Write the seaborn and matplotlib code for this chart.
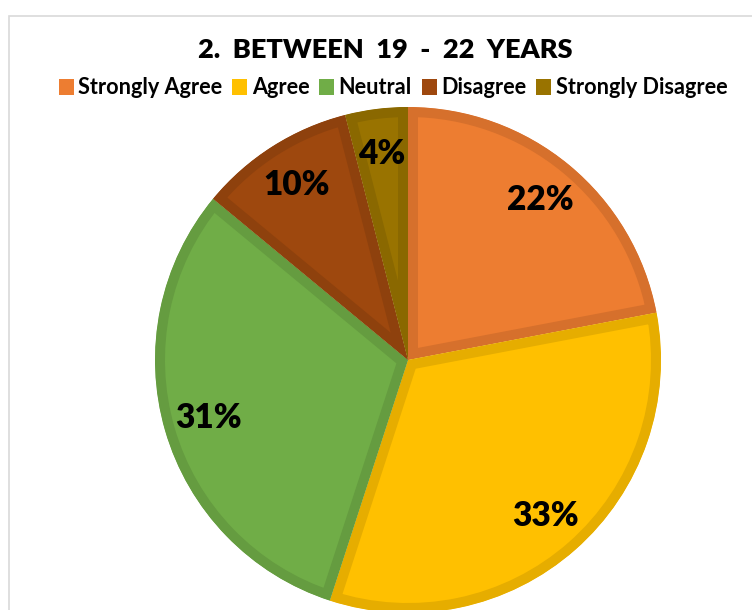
import matplotlib
matplotlib.use("Agg")
import matplotlib.pyplot as plt
import seaborn as sns
from matplotlib.patches import Rectangle, Patch

categories = ["Strongly Agree", "Agree", "Neutral", "Disagree", "Strongly Disagree"]
values = [22, 33, 31, 10, 4]
title = "2.  BETWEEN  19  -  22  YEARS"

sns.set_theme(style="white")
plt.rcParams['font.family'] = ['Lato', 'DejaVu Sans']

fills = sns.color_palette(["#ED7D31", "#FFC000", "#70AD47", "#9E480E", "#997300"])
edges = ["#D6702C", "#E6AD00", "#659C40", "#8E410D", "#8A6800"]

W, H = 752, 610
fig = plt.figure(figsize=(W / 100, H / 100), dpi=100)
fig.patch.set_facecolor("white")

# chart frame
fig.add_artist(Rectangle((9 / W, -0.1), 2.0, (H - 16) / H + 0.1, transform=fig.transFigure,
                         fill=False, edgecolor="#D9D9D9", linewidth=1.2))

cx, cy, r = 408, 360, 253
ax = fig.add_axes([(cx - r) / W, (H - cy - r) / H, 2 * r / W, 2 * r / H])

wedges, texts, autotexts = ax.pie(
    values, colors=fills, startangle=90, counterclock=False, radius=1,
    autopct=lambda p: f"{p:.0f}%", pctdistance=0.82,
    textprops=dict(fontsize=24, fontweight="heavy", color="black"),
    wedgeprops=dict(linewidth=14.4),
)
for w, ec in zip(wedges, edges):
    w.set_edgecolor(ec)
    w.set_clip_path(w)
    w.set_clip_on(True)
ax.set_xlim(-1, 1)
ax.set_ylim(-1, 1)
ax.set_aspect("equal")
ax.axis("off")

fig.text(385 / W, 1 - 50 / H, title, ha="center", va="center",
         fontsize=19.5, fontweight="heavy", color="black")

handles = [Patch(facecolor=f, edgecolor="none") for f in fills]
leg = fig.legend(handles, categories, loc="center", bbox_to_anchor=(393 / W, 1 - 88 / H),
                 ncol=5, frameon=False, handlelength=0.7, handleheight=0.7,
                 handletextpad=0.2, columnspacing=0.45, labelcolor="black",
                 prop=dict(size=15.6, weight="bold"))

fig.savefig("out.png", dpi=100)
